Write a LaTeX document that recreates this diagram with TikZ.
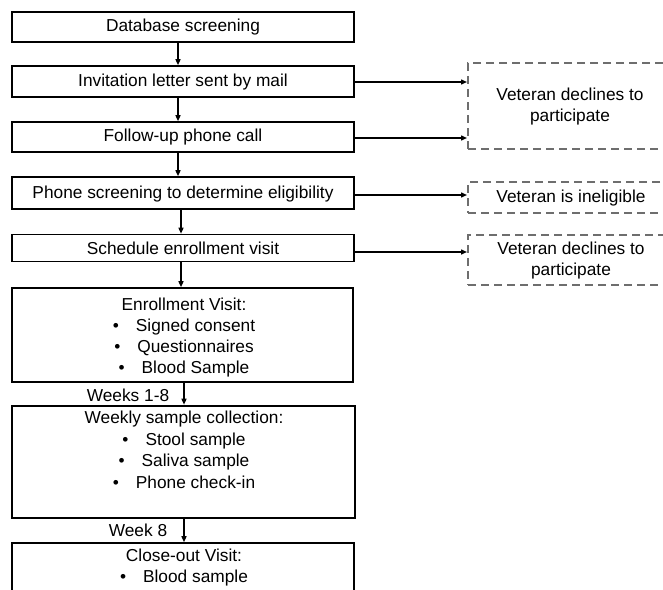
\documentclass[tikz,border=0pt]{standalone}
\usepackage{fontspec}
\setmainfont{Liberation Sans}
\usetikzlibrary{arrows.meta}
\begin{document}
\begin{tikzpicture}[x=1pt,y=-1pt,
  box/.style={draw=black,line width=1.6pt,minimum width=342pt,inner sep=0pt},
  dbox/.style={draw=dashgray,line width=2pt,dash pattern=on 8pt off 5pt,minimum width=204pt,inner sep=0pt},
  txt/.style={font=\fontsize{17.3}{21}\selectfont,align=center,inner sep=0pt},
  arr/.style={line width=1.4pt,-{Triangle[length=6pt,width=5pt]}},
  lbl/.style={font=\fontsize{17.3}{21}\selectfont,inner sep=0pt}]
\definecolor{dashgray}{HTML}{6E6E6E}
\clip (0,0) rectangle (663,589);
% main column
\node[box,minimum height=30pt] (db) at (183,27) {};
\node[txt] (dbt) at (183,27.5) {Database screening};
\node[box,minimum height=31pt] (inv) at (183,81.5) {};
\node[txt] (invt) at (183,82) {Invitation letter sent by mail};
\node[box,minimum height=30pt] (fup) at (183,137) {};
\node[txt] (fupt) at (183,137.5) {Follow-up phone call};
\node[box,minimum height=32pt] (ps) at (183,193) {};
\node[txt] (pst) at (183,194) {Phone screening to determine eligibility};
\node[box,minimum height=27pt] (sch) at (183,248) {};
\node[txt] (scht) at (183,248.5) {Schedule enrollment visit};
\node[box,minimum width=341pt,minimum height=94pt] (env) at (182.5,335) {};
\node[txt] (envt) at (184,337.5) {Enrollment Visit:\\
  \textbullet\hspace{17pt}Signed consent\\
  \textbullet\hspace{17pt}Questionnaires\\
  \textbullet\hspace{17pt}Blood Sample};
\node[box,line width=2.6pt,minimum width=343pt,minimum height=112pt] (wk) at (183.5,462) {};
\node[txt,font=\fontsize{17.3}{21.5}\selectfont] (wkt) at (184,450) {Weekly sample collection:\\
  \textbullet\hspace{17pt}Stool sample\\
  \textbullet\hspace{17pt}Saliva sample\\
  \textbullet\hspace{17pt}Phone check-in};
\node[box,minimum height=77pt] (co) at (183,581.5) {};
\node[txt] (cot) at (184,568) {Close-out Visit:\\
  \textbullet\hspace{17pt}Blood sample};
% side boxes
\node[dbox,minimum height=86pt] (dA) at (570,106) {};
\node[txt] (dAt) at (570,107) {Veteran declines to\\participate};
\node[dbox,minimum height=31pt] (dB) at (570,197.5) {};
\node[txt] (dBt) at (571,198) {Veteran is ineligible};
\node[dbox,minimum height=50pt] (dC) at (570,260) {};
\node[txt] (dCt) at (571,261) {Veteran declines to\\participate};
% labels
\node[lbl] (w18) at (128,395) {Weeks 1-8};
\node[lbl] (w8) at (138,530) {Week 8};
% column coordinates
\coordinate (c1) at (178,0);
\coordinate (c2) at (181,0);
\coordinate (c3) at (184,0);
% vertical arrows
\draw[arr] (db.south -| c1) -- (inv.north -| c1);
\draw[arr] (inv.south -| c1) -- (fup.north -| c1);
\draw[arr] (fup.south -| c1) -- (ps.north -| c1);
\draw[arr] (ps.south -| c2) -- (sch.north -| c2);
\draw[arr] (sch.south -| c2) -- (env.north -| c2);
\draw[arr] (env.south -| c3) -- (wk.north -| c3);
\draw[arr] (wk.south -| c3) -- (co.north -| c3);
% horizontal arrows
\coordinate (y1) at (0,82);
\coordinate (y2) at (0,138);
\coordinate (y3) at (0,195);
\coordinate (y4) at (0,252);
\draw[arr] (inv.east |- y1) -- (dA.west |- y1);
\draw[arr] (fup.east |- y2) -- (dA.west |- y2);
\draw[arr] (ps.east |- y3) -- (dB.west |- y3);
\draw[arr] (sch.east |- y4) -- (dC.west |- y4);
\end{tikzpicture}
\end{document}
